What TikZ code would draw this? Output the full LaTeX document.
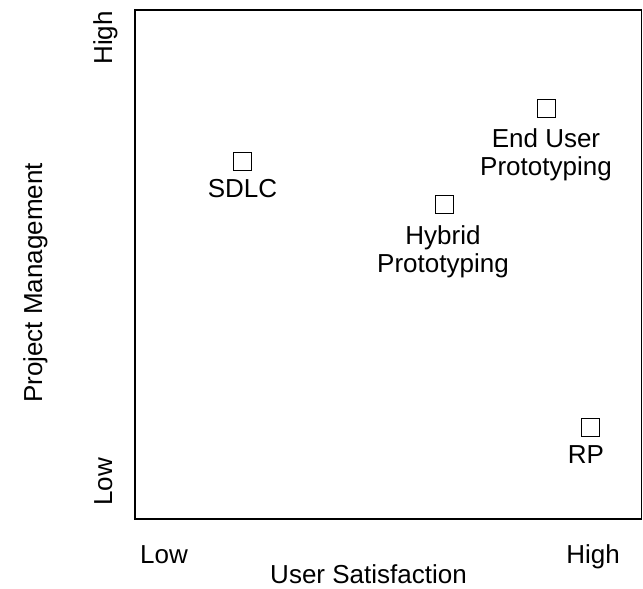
\documentclass[tikz,border=0pt]{standalone}
\usepackage{fontspec}
\setmainfont{Liberation Sans}
\begin{document}
\begin{tikzpicture}[x=1pt,y=-1pt,
  lbl/.style={font=\fontsize{26}{28}\selectfont, inner sep=0pt, anchor=base},
  markbox/.style={draw, line width=1pt, minimum size=18pt, inner sep=0pt}]
\useasboundingbox (0,0) rectangle (643,589);
% frame
\coordinate (tr) at (642,10);
\coordinate (tl) at (135,10);
\coordinate (bl) at (135,519);
\coordinate (br) at (642,519);
\draw[line width=1.8pt] (tr) -- (tl) -- (bl) -- (br);
\draw[line width=0.8pt] (641.5,10) -- (641.5,519);
% axis labels
\node[lbl, rotate=90] (yhigh) at (112,38) {High};
\node[lbl, rotate=90] (ylow) at (112,482) {Low};
\node[lbl, rotate=90] (ytitle) at (42,283) {Project Management};
\node[lbl, anchor=base west] (xlow) at (140,563) {Low};
\node[lbl] (xhigh) at (593,563) {High};
\node[lbl] (xtitle) at (368.5,583) {User Satisfaction};
% points
\node[markbox] (sdlc) at (242.5,161) {};
\node[lbl] (sdlcl) at (242.5,197) {SDLC};
\node[markbox] (eup) at (546.5,108) {};
\node[lbl] (eupl1) at (546,147) {End User};
\node[lbl] (eupl2) at (546,175) {Prototyping};
\node[markbox] (hyb) at (444,204.5) {};
\node[lbl] (hybl1) at (443,244) {Hybrid};
\node[lbl] (hybl2) at (443,272) {Prototyping};
\node[markbox] (rp) at (590.5,427) {};
\node[lbl] (rpl) at (586,463) {RP};
\end{tikzpicture}
\end{document}
